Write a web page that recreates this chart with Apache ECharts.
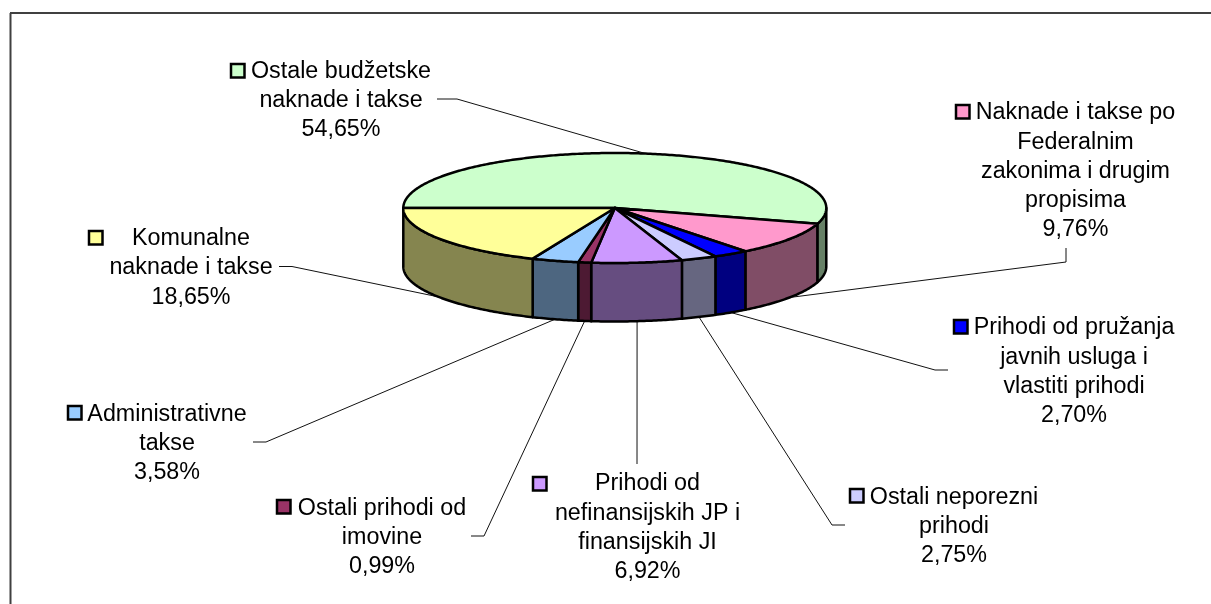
<!DOCTYPE html>
<html>
<head>
<meta charset="utf-8">
<style>html,body{margin:0;padding:0;background:#fff}#c{width:1211px;height:604px}</style>
<script src="https://cdn.jsdelivr.net/npm/echarts@6/dist/echarts.min.js"></script>
</head>
<body>
<div id="c"></div>
<script>
// Data, in clockwise order starting from the left edge of the pie
const categories = [
  'Ostale budžetske\nnaknade i takse',
  'Naknade i takse po\nFederalnim\nzakonima i drugim\npropisima',
  'Prihodi od pružanja\njavnih usluga i\nvlastiti prihodi',
  'Ostali neporezni\nprihodi',
  'Prihodi od\nnefinansijskih JP i\nfinansijskih JI',
  'Ostali prihodi od\nimovine',
  'Administrativne\ntakse',
  'Komunalne\nnaknade i takse'
];
const values = [54.65, 9.76, 2.70, 2.75, 6.92, 0.99, 3.58, 18.65];

// Styles
const topColors  = ['#CCFFCC', '#FF99CC', '#0000FF', '#CCCCFF', '#CC99FF', '#993366', '#99CCFF', '#FFFF99'];
const sideColors = ['#668066', '#804D66', '#000080', '#666680', '#664D80', '#4D1A33', '#4D6680', '#85854F'];

// Layout
const PIE = { cx: 614.8, cy: 208, rx: 211.5, ry: 55, depth: 58.5, start: 180 };
const FONT = '23.3px "Liberation Sans", Arial, sans-serif';
const labelCenterX = [341, 1075.5, 1074, 954, 647.5, 382, 167, 191];
const labelFirstY  = [71.5, 113, 328, 497.5, 484, 508.5, 414.5, 238.5];
const labelLine    = [29, 29.2, 29.3, 29, 29.3, 29, 29, 29.5];
const keyX = [230, 955, 953, 849, 532, 276, 67, 88];
const keyY = [63, 104, 319, 488, 476, 499, 405, 230];
// Leader bends: [text-side end, elbow]
const leaderBends = [
  [[437, 99], [457, 99]],
  [[1066, 248], [1066, 262]],
  [[948, 370], [935, 370]],
  [[845, 525], [832, 525]],
  [[637, 464], [637, 464]],
  [[471, 536], [484, 536]],
  [[253, 442], [266, 442]],
  [[279, 266.5], [292, 266.5]]
];

const total = values.reduce((a, b) => a + b, 0);
const spans = values.map(v => v / total * 360);
const starts = spans.map((_, i) => PIE.start + spans.slice(0, i).reduce((a, b) => a + b, 0));
const pt = (deg, dy) => {
  const r = deg * Math.PI / 180;
  return [PIE.cx + PIE.rx * Math.cos(r), PIE.cy + PIE.ry * Math.sin(r) + (dy || 0)];
};
const arc = (a, b, dy) => {
  const n = Math.max(2, Math.ceil(Math.abs(b - a) * 1.5));
  const out = [];
  for (let i = 0; i <= n; i++) out.push(pt(a + (b - a) * i / n, dy));
  return out;
};

function renderSlice(params) {
  const i = params.dataIndex;
  const a = starts[i], b = a + spans[i];
  const children = [];
  const fa = Math.max(a, 360), fb = Math.min(b, 540);
  if (fb > fa) {
    children.push({
      type: 'polygon',
      shape: { points: arc(fa, fb, 0).concat(arc(fb, fa, PIE.depth)) },
      style: { fill: sideColors[i], stroke: '#000', lineWidth: 2.5, lineJoin: 'round' }
    });
  }
  children.push({
    type: 'polygon',
    shape: { points: [[PIE.cx, PIE.cy]].concat(arc(a, b, 0)) },
    style: { fill: topColors[i], stroke: '#000', lineWidth: 2.5, lineJoin: 'round' }
  });
  return { type: 'group', children };
}

function renderLeader(params) {
  const i = params.dataIndex;
  const mid = starts[i] + spans[i] / 2;
  const front = ((mid % 360) + 360) % 360 < 180;
  const anchor = pt(mid, front ? PIE.depth : 0);
  return {
    type: 'polyline',
    shape: { points: leaderBends[i].concat([anchor]) },
    style: { fill: 'none', stroke: '#111', lineWidth: 1 }
  };
}

function renderLabel(params) {
  const i = params.dataIndex;
  const lh = labelLine[i];
  const text = categories[i] + '\n' + values[i].toFixed(2).replace('.', ',') + '%';
  return {
    type: 'group',
    children: [
      {
        type: 'rect',
        shape: { x: keyX[i] + 1, y: keyY[i] + 1, width: 13.5, height: 13.5 },
        style: { fill: topColors[i], stroke: '#000', lineWidth: 2.5 }
      },
      {
        type: 'text',
        style: {
          text, x: labelCenterX[i], y: labelFirstY[i] - lh / 2,
          align: 'center', verticalAlign: 'top', lineHeight: lh,
          font: FONT, fill: '#000'
        }
      }
    ]
  };
}

const seriesData = categories.map((name, i) => ({ name, value: values[i] }));
const chart = echarts.init(document.getElementById('c'), null, { renderer: 'canvas' });
chart.setOption({
  animation: false,
  backgroundColor: '#fff',
  graphic: [
    { type: 'line', shape: { x1: 10, y1: 13, x2: 1211, y2: 13 }, style: { stroke: '#404040', lineWidth: 2 }, silent: true },
    { type: 'line', shape: { x1: 10.5, y1: 13, x2: 10.5, y2: 604 }, style: { stroke: '#404040', lineWidth: 2 }, silent: true }
  ],
  series: [
    { type: 'custom', coordinateSystem: 'none', data: seriesData, renderItem: renderLeader, z: 1, silent: true },
    { type: 'custom', coordinateSystem: 'none', data: seriesData, renderItem: renderSlice, z: 2, silent: true },
    { type: 'custom', coordinateSystem: 'none', data: seriesData, renderItem: renderLabel, z: 3, silent: true }
  ]
});
</script>
</body>
</html>
